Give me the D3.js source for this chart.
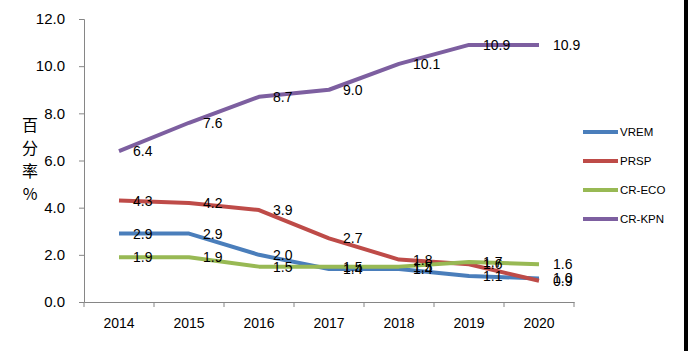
<!DOCTYPE html>
<html>
<head>
<meta charset="utf-8">
<script src="https://cdn.jsdelivr.net/npm/d3@7"></script>
<style>
  body { margin: 0; background: #fff; }
  svg { display: block; font-family: "Liberation Sans", "Noto Sans", sans-serif; }
</style>
</head>
<body>
<div id="chart"></div>
<script>
const years = ['2014', '2015', '2016', '2017', '2018', '2019', '2020'];
const vrem = [2.9, 2.9, 2.0, 1.4, 1.4, 1.1, 1.0];
const prsp = [4.3, 4.2, 3.9, 2.7, 1.8, 1.6, 0.9];
const crEco = [1.9, 1.9, 1.5, 1.5, 1.5, 1.7, 1.6];
const crKpn = [6.4, 7.6, 8.7, 9.0, 10.1, 10.9, 10.9];
const yTicks = [0, 2, 4, 6, 8, 10, 12];

const series = [
  { name: 'VREM', values: vrem, color: '#4a7ebb' },
  { name: 'PRSP', values: prsp, color: '#be4b48' },
  { name: 'CR-ECO', values: crEco, color: '#98b954' },
  { name: 'CR-KPN', values: crKpn, color: '#7d5fa0' }
];

const W = 688, H = 351;
const plotLeft = 84, plotRight = 574, plotTop = 19, plotBottom = 302;

const svg = d3.select('#chart').append('svg')
  .attr('width', W).attr('height', H);

svg.append('rect').attr('width', W).attr('height', H).attr('fill', '#fff');

const x = d3.scaleBand().domain(years).range([plotLeft, plotRight]);
const y = d3.scaleLinear().domain([0, 12]).range([plotBottom, plotTop]);

// y axis
const yAxis = svg.append('g')
  .attr('transform', `translate(${plotLeft},0)`)
  .call(d3.axisLeft(y).tickValues(yTicks).tickSize(5).tickPadding(14)
    .tickFormat(d3.format('.1f')));
yAxis.select('.domain').attr('stroke', '#868686');
yAxis.selectAll('.tick line').attr('stroke', '#868686');
yAxis.selectAll('.tick text')
  .attr('font-size', 15).attr('fill', '#000')
  .attr('font-family', '"Liberation Sans", sans-serif');

// x axis
const xAxis = svg.append('g')
  .attr('transform', `translate(0,${plotBottom})`)
  .call(d3.axisBottom(x).tickSize(0).tickPadding(16));
xAxis.select('.domain').attr('stroke', '#868686');
xAxis.selectAll('.tick text')
  .attr('font-size', 14).attr('fill', '#000')
  .attr('font-family', '"Liberation Sans", sans-serif');
// x tick marks between categories
xAxis.selectAll('.sep')
  .data(d3.range(years.length + 1))
  .enter().append('line')
  .attr('x1', i => plotLeft + i * x.step()).attr('x2', i => plotLeft + i * x.step())
  .attr('y1', 0).attr('y2', 5)
  .attr('stroke', '#868686');

// y axis title, stacked characters
const title = ['百', '分', '率', '%'];
svg.append('g').selectAll('text')
  .data(title)
  .enter().append('text')
  .attr('x', 30).attr('y', (d, i) => 131 + i * 23)
  .attr('text-anchor', 'middle')
  .attr('font-size', 16)
  .attr('font-family', '"Noto Sans CJK SC", sans-serif')
  .text(d => d);

const cx = d => x(d) + x.bandwidth() / 2;

const line = d3.line()
  .x((d, i) => cx(years[i]))
  .y(d => y(d));

svg.append('g').selectAll('path')
  .data(series)
  .enter().append('path')
  .attr('d', s => line(s.values))
  .attr('fill', 'none')
  .attr('stroke', s => s.color)
  .attr('stroke-width', 4)
  .attr('stroke-linejoin', 'round');

// data labels
series.forEach(s => {
  svg.append('g').selectAll('text')
    .data(s.values)
    .enter().append('text')
    .attr('x', (d, i) => cx(years[i]) + 14)
    .attr('y', d => y(d) + 5)
    .attr('font-size', 14)
    .attr('fill', '#000')
    .text(d => d3.format('.1f')(d));
});

// legend
const legend = svg.append('g').selectAll('g')
  .data(series)
  .enter().append('g')
  .attr('transform', (d, i) => `translate(583,${132 + i * 29})`);
legend.append('line')
  .attr('x1', 0).attr('x2', 35)
  .attr('stroke', d => d.color).attr('stroke-width', 4);
legend.append('text')
  .attr('x', 37).attr('y', 4)
  .attr('font-size', 11.5)
  .text(d => d.name);

// right border
svg.append('rect')
  .attr('x', 684).attr('y', 0).attr('width', 4).attr('height', H)
  .attr('fill', '#000');
</script>
</body>
</html>
